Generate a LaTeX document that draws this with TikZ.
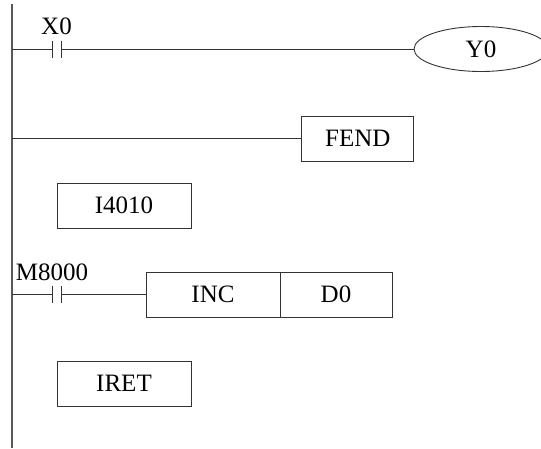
\documentclass[tikz,border=0pt]{standalone}
\usepackage{fontspec}
\setmainfont{Liberation Serif}
\usetikzlibrary{shapes.geometric}

\tikzset{
  instbox/.style={draw=black!80, line width=0.9pt, minimum width=#1, minimum height=45pt, inner sep=0pt, outer sep=0pt},
  instbox/.default=134pt,
  coilnode/.style={draw=black!80, line width=0.9pt, ellipse, minimum width=134pt, minimum height=45pt, inner sep=0pt, outer sep=0pt},
  contactgap/.style={minimum width=9.5pt, minimum height=17pt, inner sep=0pt, outer sep=0pt},
  tag/.style={inner sep=0pt, outer sep=0pt},
  rung/.style={black!80, line width=0.9pt},
  rail/.style={black!65, line width=1.6pt}
}

\begin{document}
\begin{tikzpicture}[x=1pt, y=-1pt, font=\fontsize{25}{25}\selectfont]
  \useasboundingbox (0,0) rectangle (541,448);

  \coordinate (railtop) at (12,4);
  \coordinate (railbot) at (12,448);
  \draw[rail] (railtop) -- (railbot);

  \coordinate (rail1) at (12,49);
  \coordinate (rail2) at (12,138.5);
  \coordinate (rail3) at (12,294.5);

  \node[contactgap] (x0) at (56.7,49) {};
  \node[contactgap] (m8000) at (56.7,294.5) {};
  \node[tag] (x0tag) at (56.5,26) {X0};
  \node[tag] (m8000tag) at (52,272) {M8000};

  \node[coilnode] (y0) at (481,49) {Y0};
  \node[instbox=112pt] (fend) at (357.8,138.5) {FEND};
  \node[instbox] (i4010) at (124,205.5) {I4010};
  \node[instbox] (inc) at (213,294.5) {INC};
  \node[instbox=112pt] (d0) at (336,294.5) {D0};
  \node[instbox] (iret) at (124,383.5) {IRET};

  \foreach \c in {x0,m8000} {
    \draw[rung] (\c.north west) -- (\c.south west);
    \draw[rung] (\c.north east) -- (\c.south east);
  }

  \draw[rung] (rail1) -- (x0.west);
  \draw[rung] (x0.east) -- (y0.west);
  \draw[rung] (rail2) -- (fend.west);
  \draw[rung] (rail3) -- (m8000.west);
  \draw[rung] (m8000.east) -- (inc.west);
\end{tikzpicture}
\end{document}
